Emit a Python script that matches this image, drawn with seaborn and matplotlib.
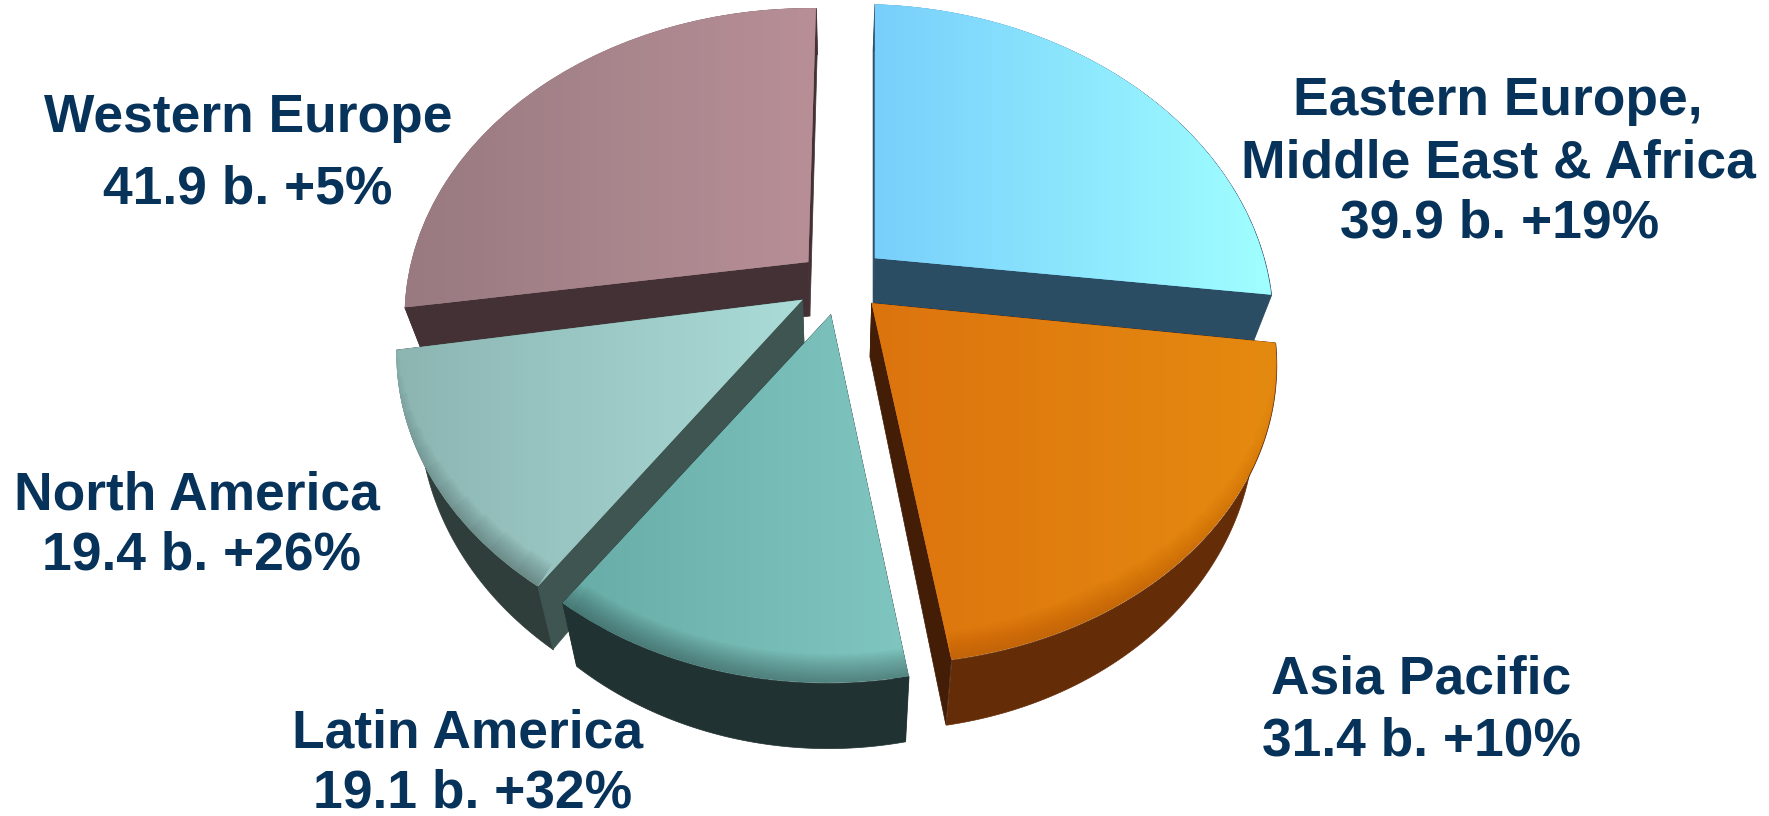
import numpy as np
import matplotlib
matplotlib.use("Agg")
import matplotlib.pyplot as plt
import seaborn as sns
from matplotlib.collections import PolyCollection
from matplotlib.colors import LinearSegmentedColormap
from matplotlib.transforms import Transform

regions = ["Eastern Europe,\nMiddle East & Africa", "Asia Pacific", "Latin America", "North America", "Western Europe"]
revenue = [39.9, 31.4, 19.1, 19.4, 41.9]
growth = [19, 10, 32, 26, 5]
explode = [0.12, 0.105, 0.11, 0.11, 0.105]

top_left = ["#78cffb", "#dc740e", "#68aca7", "#8cb5b2", "#987a80"]
top_right = ["#a0ffff", "#e58a10", "#80c6c0", "#abdcd8", "#b88f97"]
rim_colors = ["#2b4d63", "#652c08", "#203231", "#2f3d3b", "#433135"]
side_colors = ["#2b4d63", "#431d05", "#203231", "#3f5552", "#433135"]
bevel = [0.0, 0.3, 0.7, 0.7, 0.0]
text_color = "#07335b"

# small per slice corrections of the drawing's perspective
shear_x = [0.0, 0.03, 0.03, 0.0, 0.03]
shear_y = [0.03, 0.037, 0.015, 0.0, 0.012]
width_k = [0.98, 1.0, 0.98, 1.0, 0.99]
height_k = [1.0, 1.0, 1.02, 1.0, 1.0]

# label centres in pixels of the 1769x816 picture
label_x = [1498, 1421, 468, 197, 248]
label_y = [[101, 164, 224], [679, 741], [734, 793], [496, 555], [118, 190]]
last_line_x = [1500, 1421, 473, 201, 248]

# perspective of the pie plane
CX, CY = 840, 282
RX, RY = 400, 298
K = 0.174
DEPTH = 54
CONVERGE = 0.05


def project(i, cx, cy, x, y, drop=0.0):
    tx = CX + RX * cx / (1 + K * cy)
    ty = CY - RY * cy / (1 + K * cy)
    dx = x - cx
    dy = y - cy
    w = 1 + K * dy
    lx = RX * width_k[i] * dx / w
    ly = -RY * height_k[i] * dy / w
    px = tx + lx - shear_x[i] * ly
    py = ty + ly + shear_y[i] * lx
    if drop:
        px = CX + (px - CX) * (1 - CONVERGE)
        py = py + drop / w
    return px, py


class PlaneTransform(Transform):
    input_dims = 2
    output_dims = 2

    def __init__(self, i, center):
        super().__init__()
        self.i = i
        self.center = center

    def transform_non_affine(self, values):
        px, py = project(self.i, self.center[0], self.center[1], values[:, 0], values[:, 1])
        return np.column_stack([px, py])


sns.set_theme(style="white")
plt.rcParams["font.family"] = ["Liberation Sans", "DejaVu Sans"]

fig = plt.figure(figsize=(17.69, 8.16), dpi=100)
ax = fig.add_axes([0, 0, 1, 1])

wedges, _ = ax.pie(revenue, explode=explode, startangle=90, counterclock=False,
                   colors=sns.color_palette(top_left))

# back slices first, front ones over them
draw_order = [4, 0, 3, 1, 2]
for z, i in enumerate(draw_order):
    w = wedges[i]
    base = 10 * (z + 1)
    cx, cy = w.center
    th = np.radians(np.linspace(w.theta1, w.theta2, 200))
    arc_x = cx + np.cos(th)
    arc_y = cy + np.sin(th)
    px, py = project(i, cx, cy, arc_x, arc_y)
    qx, qy = project(i, cx, cy, arc_x, arc_y, DEPTH)

    rim = np.column_stack([np.r_[px, qx[::-1]], np.r_[py, qy[::-1]]])
    ax.add_collection(PolyCollection([rim], facecolors=rim_colors[i], edgecolors=rim_colors[i],
                                     linewidths=0.5, zorder=base))

    tip = project(i, cx, cy, cx, cy)
    tip_q = project(i, cx, cy, cx, cy, DEPTH)
    sides = [[tip, (px[k], py[k]), (qx[k], qy[k]), tip_q] for k in (0, -1)]
    ax.add_collection(PolyCollection(sides, facecolors=side_colors[i], edgecolors=side_colors[i],
                                     linewidths=0.5, zorder=base + 1))

    w.set_transform(PlaneTransform(i, w.center) + ax.transData)
    w.set_zorder(base + 2)
    w.set_edgecolor("none")

    # horizontal gradient on the top face
    cmap = LinearSegmentedColormap.from_list("top", [top_left[i], top_right[i]])
    x0, x1 = min(px.min(), tip[0]), max(px.max(), tip[0])
    y0, y1 = min(py.min(), tip[1]), max(py.max(), tip[1])
    im = ax.imshow(np.linspace(0, 1, 256).reshape(1, -1), cmap=cmap, aspect="auto",
                   extent=(x0, x1, y1, y0), interpolation="bilinear", zorder=base + 3)
    im.set_clip_path(w)

    # soft dark bevel along the front of the outer edge, wider lines stop earlier so it tapers
    if bevel[i] > 0:
        for lw in range(2, 42, 3):
            front = np.sin(th) < -0.1 - lw * 0.018
            line, = ax.plot(px[front], py[front], color=rim_colors[i], lw=lw, alpha=0.05 * bevel[i],
                            zorder=base + 4, solid_capstyle="butt")
            line.set_clip_path(w)

for i, name in enumerate(regions):
    lines = name.split("\n")
    for line, y in zip(lines, label_y[i]):
        ax.text(label_x[i], y, line, color=text_color, fontsize=38.4, fontweight="bold",
                ha="center", va="center", zorder=100)
    ax.text(last_line_x[i], label_y[i][len(lines)], f"{revenue[i]} b. +{growth[i]}%", color=text_color,
            fontsize=38.4, fontweight="bold", ha="center", va="center", zorder=100)

ax.set_aspect("auto")
ax.set_xlim(0, 1769)
ax.set_ylim(816, 0)
ax.axis("off")
fig.savefig("out.png", dpi=100, facecolor="white")
